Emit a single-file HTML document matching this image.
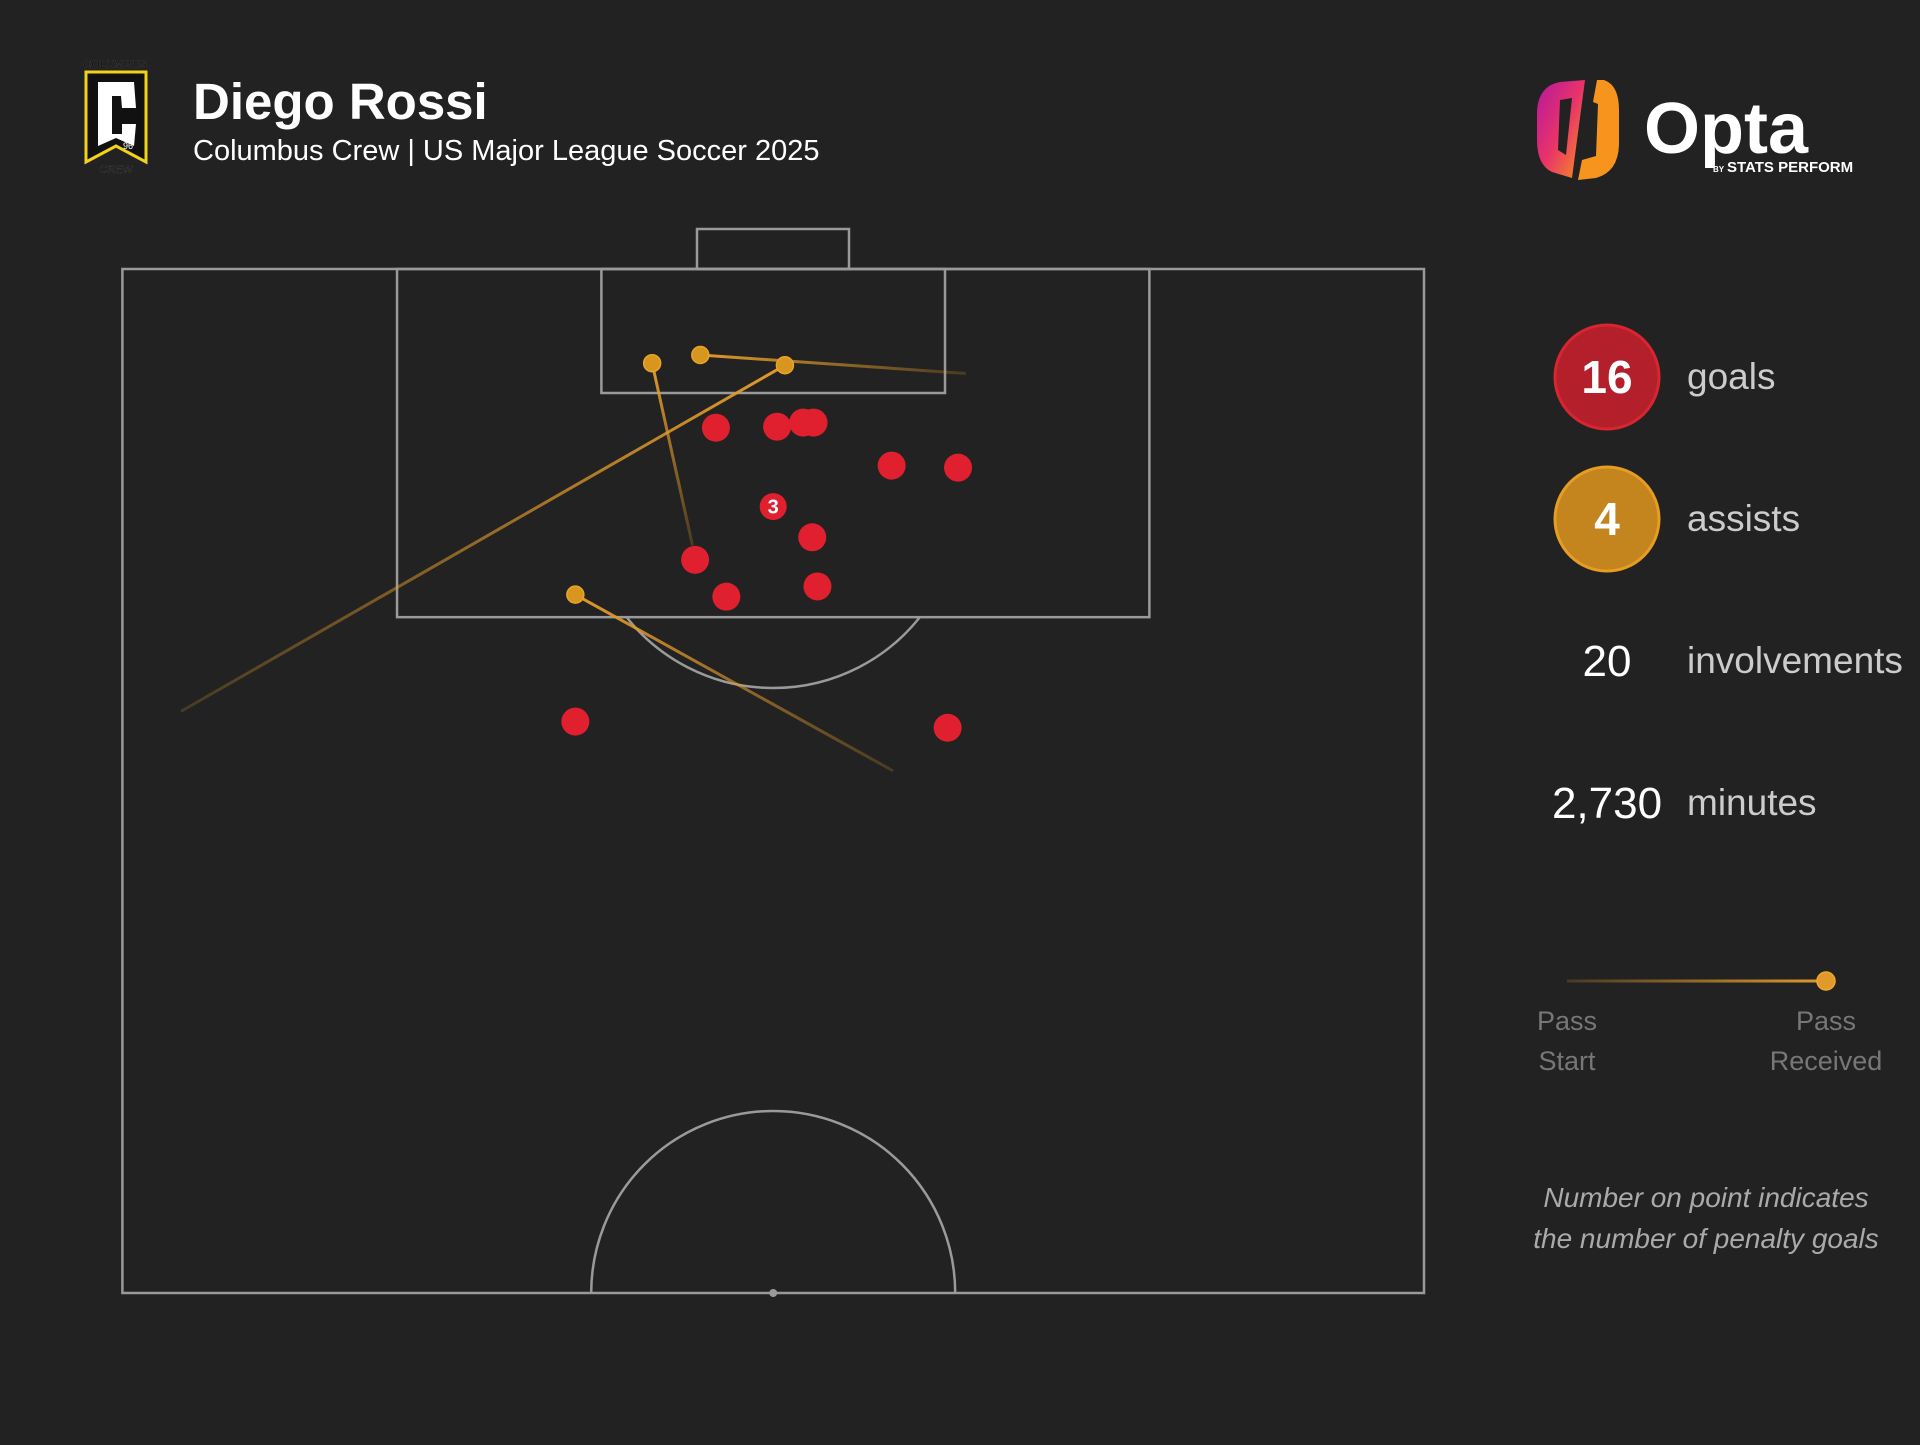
<!DOCTYPE html>
<html><head><meta charset="utf-8"><style>
html,body{margin:0;padding:0;background:#222222;}
body{width:1920px;height:1440px;overflow:hidden;font-family:"Liberation Sans",sans-serif;}
</style></head><body>
<svg id="chart" width="1920" height="1440" viewBox="0 0 1920 1440" xmlns="http://www.w3.org/2000/svg">
<defs>
<linearGradient id="og" x1="0" y1="0" x2="1" y2="1"><stop offset="0" stop-color="#b5179e"/><stop offset="0.5" stop-color="#e8336a"/><stop offset="1" stop-color="#f7941d"/></linearGradient>
<linearGradient id="legGrad" gradientUnits="userSpaceOnUse" x1="1567" y1="981" x2="1826" y2="981"><stop offset="0" stop-color="#e09a2a" stop-opacity="0.2"/><stop offset="1" stop-color="#e09a2a" stop-opacity="1"/></linearGradient>
</defs>
<rect x="0" y="0" width="1920" height="1440" fill="#222222"/>
<g>
<text x="115" y="68" font-size="11" font-weight="bold" fill="#111" text-anchor="middle" stroke="#555" stroke-width="0.3">COLUMBUS</text>
<path d="M86 72 L146 72 L146 162 L116 146 L86 162 Z" fill="#111" stroke="#f2d21b" stroke-width="3"/>
<path d="M98 82 L134 82 L136 108 L122 108 L121 96 L112 96 L112 134 L122 134 L122 124 L136 124 L134 146 L116 138 L98 146 Z" fill="#fff"/>
<text x="128" y="149" font-size="9" fill="#fff" text-anchor="middle">96</text>
<text x="116" y="173" font-size="11" fill="#111" text-anchor="middle" stroke="#555" stroke-width="0.3">CREW</text>
</g>
<text x="193" y="119" font-size="51" font-weight="bold" fill="#ffffff">Diego Rossi</text>
<text x="193" y="160" font-size="29" fill="#ffffff">Columbus Crew | US Major League Soccer 2025</text>
<g>
<path d="M1560 82 L1585 80 L1572 178 L1552 172 Q1537 165 1537 140 L1537 112 Q1538 86 1560 82 Z M1560 100 L1558 150 L1566 155 L1572 98 Z" fill="url(#og)" fill-rule="evenodd"/>
<path d="M1597 80 L1604 80 Q1619 85 1619 110 L1619 145 Q1618 172 1596 178 L1578 180 L1582 160 L1596 156 L1598 104 L1593 102 Z" fill="#f7941d"/>
<text x="1644" y="153" font-size="72" font-weight="bold" fill="#ffffff">Opta</text>
<text x="1713" y="172" font-size="8" font-weight="bold" fill="#ffffff">BY</text>
<text x="1727" y="172" font-size="15" font-weight="bold" fill="#ffffff">STATS PERFORM</text>
</g>
<g id="pitch"></g>
<g id="marks"></g>
<circle cx="1607" cy="377" r="52" fill="#b3202c" stroke="#d8252f" stroke-width="3"/>
<text x="1607" y="393" font-size="46" font-weight="bold" fill="#fff" text-anchor="middle">16</text>
<text x="1687" y="389" font-size="37" fill="#cccccc">goals</text>
<circle cx="1607" cy="519" r="52" fill="#c4841e" stroke="#e69d22" stroke-width="3"/>
<text x="1607" y="535" font-size="46" font-weight="bold" fill="#fff" text-anchor="middle">4</text>
<text x="1687" y="531" font-size="37" fill="#cccccc">assists</text>
<text x="1607" y="676" font-size="44" fill="#fff" text-anchor="middle">20</text>
<text x="1687" y="673" font-size="37" fill="#cccccc">involvements</text>
<text x="1607" y="818" font-size="44" fill="#fff" text-anchor="middle">2,730</text>
<text x="1687" y="815" font-size="37" fill="#cccccc">minutes</text>
<g>
<line x1="1567" y1="981" x2="1826" y2="981" stroke="url(#legGrad)" stroke-width="3"/>
<circle cx="1826" cy="981" r="9" fill="#e09a2a" stroke="#f0a830" stroke-width="1.5"/>
<text x="1567" y="1030" font-size="27" fill="#777" text-anchor="middle">Pass</text>
<text x="1567" y="1070" font-size="27" fill="#777" text-anchor="middle">Start</text>
<text x="1826" y="1030" font-size="27" fill="#777" text-anchor="middle">Pass</text>
<text x="1826" y="1070" font-size="27" fill="#777" text-anchor="middle">Received</text>
</g>
<text x="1706" y="1207" font-size="28" font-style="italic" fill="#aaaaaa" text-anchor="middle">Number on point indicates</text>
<text x="1706" y="1248" font-size="28" font-style="italic" fill="#aaaaaa" text-anchor="middle">the number of penalty goals</text>
</svg>
<script>
// Opta coordinates: w = width 0..100 (left->right), l = length 50..100 (halfway->goal line)
const shotW = [45.6, 50.3, 52.3, 53.1, 59.1, 64.2, 53.0, 44.0, 46.4, 53.4, 34.8, 63.4];
const shotL = [92.25, 92.3, 92.5, 92.5, 90.4, 90.3, 86.9, 85.8, 84.0, 84.5, 77.9, 77.6];
const penW = [50.0];
const penL = [88.4];
const penCount = [3];
const passStartW = [43.8, 64.8, 4.5, 59.2];
const passStartL = [86.5, 94.9, 78.4, 75.5];
const passEndW = [40.7, 44.4, 50.9, 34.8];
const passEndL = [95.4, 95.8, 95.3, 84.1];

const NS = 'http://www.w3.org/2000/svg';
const PL = 122.4, PR = 1424, PT = 269, PB = 1293;
function sx(w){ return PL + w/100*(PR-PL); }
function sy(l){ return PB - (l-50)/50*(PB-PT); }
function mk(tag, attrs, parent){
  const e = document.createElementNS(NS, tag);
  for (const k in attrs) e.setAttribute(k, attrs[k]);
  parent.appendChild(e); return e;
}
const pitch = document.getElementById('pitch');
const marks = document.getElementById('marks');
const ls = {fill:'none', stroke:'#9a9a9a', 'stroke-width':2.5};
let e;
e = mk('rect', Object.assign({x:PL,y:PT,width:PR-PL,height:PB-PT}, ls), pitch);


e = mk('rect', Object.assign({x:sx(21.1),y:PT,width:sx(78.9)-sx(21.1),height:sy(83)-PT}, ls), pitch);


e = mk('rect', Object.assign({x:sx(36.8),y:PT,width:sx(63.2)-sx(36.8),height:393-PT}, ls), pitch);


e = mk('rect', Object.assign({x:697,y:229,width:152,height:PT-229}, ls), pitch);


const acx = (PL+PR)/2, acy = 500.7, ar = 187.3, by = sy(83);
const dx = Math.sqrt(ar*ar - (by-acy)*(by-acy));
e = mk('path', Object.assign({d:`M ${acx-dx} ${by} A ${ar} ${ar} 0 0 0 ${acx+dx} ${by}`}, ls), pitch);


const cr = 182;
e = mk('path', Object.assign({d:`M ${acx-cr} ${PB} A ${cr} ${cr} 0 0 1 ${acx+cr} ${PB}`}, ls), pitch);


e = mk('circle', {cx:acx, cy:PB, r:4, fill:'#9a9a9a'}, pitch);



const defs = document.querySelector('defs');
for (let i=0;i<passStartW.length;i++){
  const x1=sx(passStartW[i]), y1=sy(passStartL[i]), x2=sx(passEndW[i]), y2=sy(passEndL[i]);
  const g = mk('linearGradient', {id:'pg'+i, gradientUnits:'userSpaceOnUse', x1:x1, y1:y1, x2:x2, y2:y2}, defs);
  mk('stop', {offset:0, 'stop-color':'#e09a2a', 'stop-opacity':0.2}, g);
  mk('stop', {offset:1, 'stop-color':'#e09a2a', 'stop-opacity':1}, g);
  e = mk('line', {x1:x1,y1:y1,x2:x2,y2:y2, stroke:'url(#pg'+i+')', 'stroke-width':3}, marks);
  
  
}
for (let i=0;i<shotW.length;i++){
  e = mk('circle', {cx:sx(shotW[i]), cy:sy(shotL[i]), r:14, fill:'#e0202e'}, marks);
  
  
}
for (let i=0;i<penW.length;i++){
  e = mk('circle', {cx:sx(penW[i]), cy:sy(penL[i]), r:13.5, fill:'#e0202e'}, marks);
  
  
  e = mk('text', {x:sx(penW[i]), y:sy(penL[i])+7, 'font-size':20, 'font-weight':'bold', fill:'#fff', 'text-anchor':'middle'}, marks);
  e.textContent = penCount[i];
  
  
}
for (let i=0;i<passEndW.length;i++){
  e = mk('circle', {cx:sx(passEndW[i]), cy:sy(passEndL[i]), r:8.5, fill:'#d9961f', stroke:'#e8a52c', 'stroke-width':1.5}, marks);
  
  
}
</script>
</body></html>
